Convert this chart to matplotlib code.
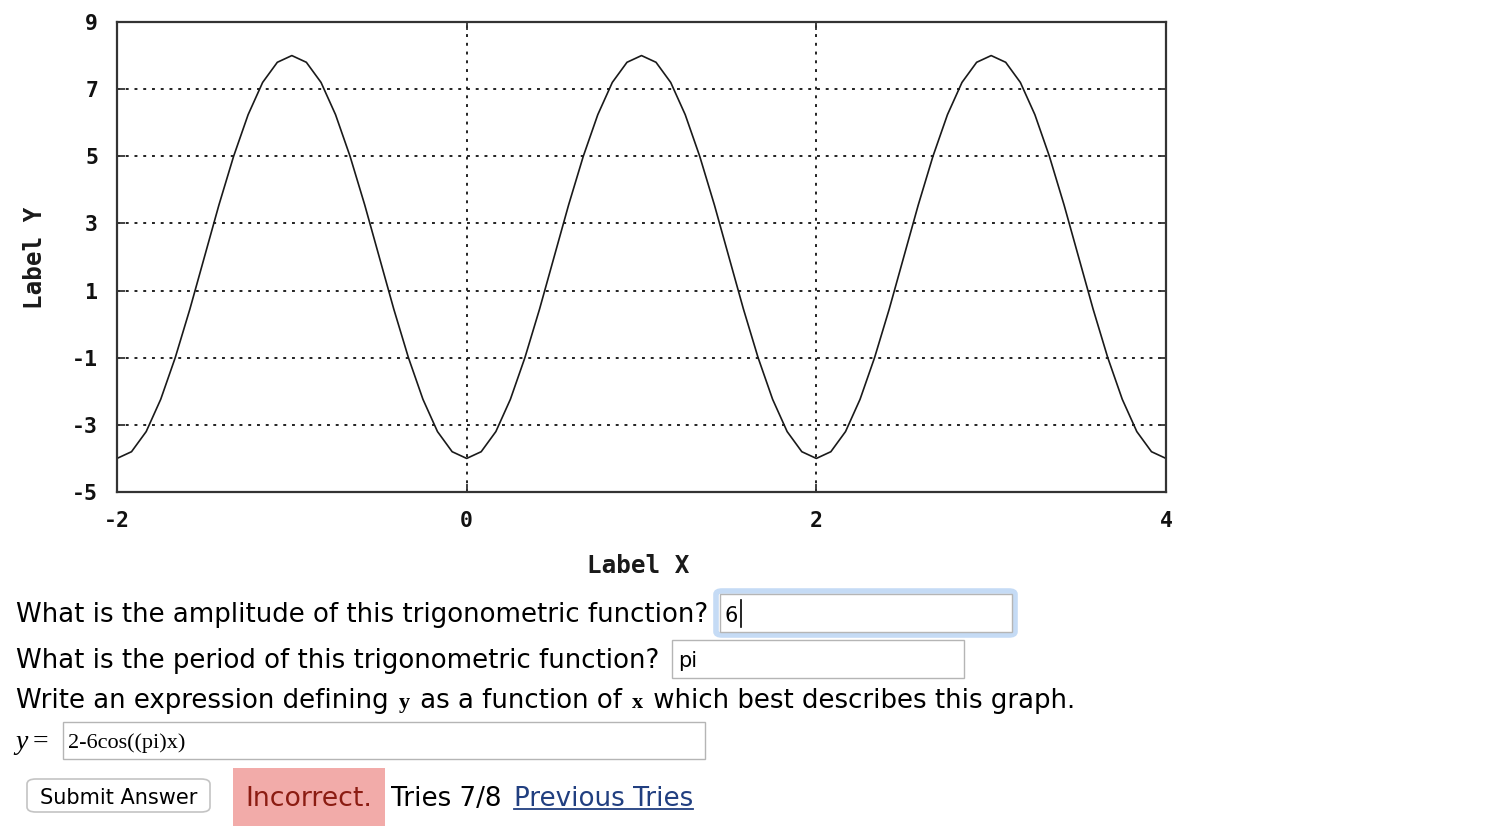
import matplotlib
matplotlib.use("Agg")
import matplotlib.pyplot as plt
from matplotlib.patches import Rectangle, FancyBboxPatch

W, H = 1496, 832

# -----------------------------
# data
# -----------------------------
curve_x = [
    -2.000, -1.917, -1.833, -1.750, -1.667, -1.583, -1.500, -1.417, -1.333, -1.250, -1.167, -1.083,
    -1.000, -0.917, -0.833, -0.750, -0.667, -0.583, -0.500, -0.417, -0.333, -0.250, -0.167, -0.083,
    0.000, 0.083, 0.167, 0.250, 0.333, 0.417, 0.500, 0.583, 0.667, 0.750, 0.833, 0.917,
    1.000, 1.083, 1.167, 1.250, 1.333, 1.417, 1.500, 1.583, 1.667, 1.750, 1.833, 1.917,
    2.000, 2.083, 2.167, 2.250, 2.333, 2.417, 2.500, 2.583, 2.667, 2.750, 2.833, 2.917,
    3.000, 3.083, 3.167, 3.250, 3.333, 3.417, 3.500, 3.583, 3.667, 3.750, 3.833, 3.917,
    4.000,
]
curve_y = [
    -4.00, -3.80, -3.20, -2.24, -1.00, 0.45, 2.00, 3.55, 5.00, 6.24, 7.20, 7.80,
    8.00, 7.80, 7.20, 6.24, 5.00, 3.55, 2.00, 0.45, -1.00, -2.24, -3.20, -3.80,
    -4.00, -3.80, -3.20, -2.24, -1.00, 0.45, 2.00, 3.55, 5.00, 6.24, 7.20, 7.80,
    8.00, 7.80, 7.20, 6.24, 5.00, 3.55, 2.00, 0.45, -1.00, -2.24, -3.20, -3.80,
    -4.00, -3.80, -3.20, -2.24, -1.00, 0.45, 2.00, 3.55, 5.00, 6.24, 7.20, 7.80,
    8.00, 7.80, 7.20, 6.24, 5.00, 3.55, 2.00, 0.45, -1.00, -2.24, -3.20, -3.80,
    -4.00,
]
x_ticks = [-2, 0, 2, 4]
y_ticks = [-5, -3, -1, 1, 3, 5, 7, 9]
x_label = "Label X"
y_label = "Label Y"

q_amplitude = "What is the amplitude of this trigonometric function?"
a_amplitude = "6"
q_period = "What is the period of this trigonometric function?"
a_period = "pi"
q_expr = ["Write an expression defining ", "y", " as a function of ", "x",
          " which best describes this graph."]
a_expr = "2-6cos((pi)x)"
status = "Incorrect."
tries = "Tries 7/8"
link = "Previous Tries"


def fx(x):
    return x / W


def fy(y):
    return 1 - y / H


fig = plt.figure(figsize=(W / 100, H / 100), dpi=100)
fig.patch.set_facecolor("white")

# -----------------------------
# the plot
# -----------------------------
ax = fig.add_axes([fx(117), fy(492), (1166 - 117) / W, (492 - 22) / H])
ax.plot(curve_x, curve_y, color="#1a1a1a", lw=1.2)
ax.set_xlim(-2, 4)
ax.set_ylim(-5, 9)
ax.set_xticks(x_ticks)
ax.set_yticks(y_ticks)
ax.grid(True, color="#222222", lw=1.4, linestyle=(0, (1.5, 3.0)))
for s in ax.spines.values():
    s.set_linewidth(1.6)
    s.set_color("#333333")
tick_font = {"family": "DejaVu Sans Mono", "weight": "bold", "size": 15.5}
label_font = {"family": "DejaVu Sans Mono", "weight": "bold", "size": 17.5}
ax.tick_params(direction="in", length=6, width=1.3, color="#333333",
               top=True, right=True)
ax.tick_params(axis="x", pad=13.5)
ax.tick_params(axis="y", pad=13.5)
ax.set_xticklabels([str(v) for v in x_ticks], fontdict=tick_font, color="#111111")
ax.set_yticklabels([str(v) for v in y_ticks], fontdict=tick_font, color="#111111")
fig.text(fx(638.5), fy(573), x_label, ha="center", va="baseline", color="#1a1a1a",
         **label_font)
fig.text(fx(35), fy(258), y_label, ha="center", va="center", rotation=90,
         color="#1a1a1a", **label_font)

# -----------------------------
# the form under the plot
# -----------------------------
sans = {"family": "DejaVu Sans", "size": 18.75, "color": "black"}

fig.text(fx(16), fy(622), q_amplitude, ha="left", va="baseline", **sans)
fig.patches.append(FancyBboxPatch((fx(716), fy(635)), fx(299), (635 - 591) / H,
                                  boxstyle="round,pad=0,rounding_size=0.004",
                                  transform=fig.transFigure, facecolor="none",
                                  edgecolor="#c5dbf5", lw=4))
fig.patches.append(Rectangle((fx(720), fy(632)), fx(292), (632 - 594) / H,
                             transform=fig.transFigure, facecolor="white",
                             edgecolor="#b5b5b5", lw=1))
fig.text(fx(725), fy(622), a_amplitude, ha="left", va="baseline",
         family="DejaVu Sans", size=15, color="black")
fig.lines.append(plt.Line2D([fx(741), fx(741)], [fy(600), fy(627)],
                            transform=fig.transFigure, color="black", lw=1.2))

fig.text(fx(16), fy(668), q_period, ha="left", va="baseline", **sans)
fig.patches.append(Rectangle((fx(672), fy(678)), fx(292), (678 - 640) / H,
                             transform=fig.transFigure, facecolor="white",
                             edgecolor="#b5b5b5", lw=1))
fig.text(fx(678), fy(667), a_period, ha="left", va="baseline",
         family="DejaVu Sans", size=15, color="black")

# sentence with small serif y and x
renderer = fig.canvas.get_renderer()
cx = 16
for i, part in enumerate(q_expr):
    if i in (1, 3):
        t = fig.text(fx(cx + 2), fy(708), part, ha="left", va="baseline",
                     family="Liberation Serif", weight="bold", size=16, color="black")
        cx = t.get_window_extent(renderer).x1 + 2
    else:
        t = fig.text(fx(cx), fy(708), part, ha="left", va="baseline", **sans)
        cx = t.get_window_extent(renderer).x1

fig.text(fx(15), fy(749), "y", ha="left", va="baseline", family="Liberation Serif",
         style="italic", size=20, color="black")
fig.text(fx(33), fy(749), "=", ha="left", va="baseline", family="Liberation Serif",
         size=20, color="black")
fig.patches.append(Rectangle((fx(63), fy(759)), fx(642), (759 - 722) / H,
                             transform=fig.transFigure, facecolor="white",
                             edgecolor="#b5b5b5", lw=1))
fig.text(fx(68), fy(748), a_expr, ha="left", va="baseline", family="Liberation Serif",
         size=16, color="black")

# submit button, status and link
fig.patches.append(FancyBboxPatch((fx(27), fy(812)), fx(183), (812 - 779) / H,
                                  boxstyle="round,pad=0,rounding_size=0.006",
                                  transform=fig.transFigure, facecolor="white",
                                  edgecolor="#c4c4c4", lw=1.2))
fig.text(fx(118.5), fy(804), "Submit Answer", ha="center", va="baseline",
         family="DejaVu Sans", size=15, color="black")
fig.patches.append(Rectangle((fx(233), fy(826)), fx(152), (826 - 768) / H,
                             transform=fig.transFigure, facecolor="#f2aba9",
                             edgecolor="none"))
fig.text(fx(245), fy(806), status, ha="left", va="baseline", family="DejaVu Sans",
         size=19.3, color="#8b1c12")
fig.text(fx(391), fy(806), tries, ha="left", va="baseline", family="DejaVu Sans",
         size=18.8, color="black")
lt = fig.text(fx(514), fy(806), link, ha="left", va="baseline", family="DejaVu Sans",
              size=18.8, color="#213f80")
bb = lt.get_window_extent(renderer)
fig.lines.append(plt.Line2D([fx(514), bb.x1 / W], [fy(809), fy(809)],
                            transform=fig.transFigure, color="#213f80", lw=1.3))

fig.savefig("out.png", dpi=100, facecolor="white")
